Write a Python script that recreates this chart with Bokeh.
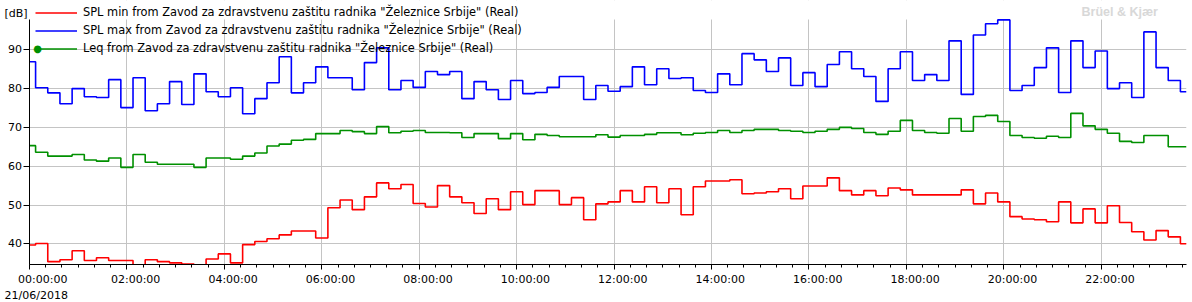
import pandas as pd
from bokeh.plotting import figure
from bokeh.models import (Range1d, FixedTicker, Label, Legend, LegendItem,
                          BoxAnnotation, LinearAxis, Title)
from bokeh.embed import file_html
from bokeh.resources import INLINE

# ---- data -------------------------------------------------------------
start_time = "2018-06-21 00:00"
interval = "15min"

spl_min = [39.7, 40.1, 35.4, 35.9, 38.2, 35.7, 36.4, 35.7, 35.7, 34.0,
           35.9, 35.4, 35.1, 34.8, 34.0, 36.1, 37.4, 35.1, 39.8, 40.6,
           41.3, 42.3, 43.3, 43.3, 41.5, 49.3, 51.3, 48.8, 52.1, 55.7,
           54.2, 55.3, 50.4, 49.5, 55.0, 52.1, 50.6, 47.8, 51.6, 48.8,
           53.4, 50.1, 53.7, 53.7, 50.1, 51.9, 46.2, 50.3, 50.8, 53.7,
           50.8, 54.7, 50.6, 54.2, 47.5, 54.7, 56.2, 56.2, 56.5, 52.9,
           53.1, 53.4, 54.2, 51.6, 54.9, 54.9, 57.0, 53.7, 52.6, 53.7,
           52.4, 54.4, 53.9, 52.6, 52.6, 52.6, 52.6, 53.9, 50.3, 53.1,
           50.8, 47.0, 46.4, 46.2, 45.7, 50.8, 45.4, 49.0, 45.4, 49.8,
           45.5, 43.1, 41.0, 43.4, 41.8, 40.0]

spl_max = [86.9, 80.2, 78.9, 76.1, 80.0, 77.9, 77.7, 82.3, 75.1, 82.8,
           74.3, 76.1, 81.8, 75.9, 83.8, 79.2, 77.9, 80.2, 73.5, 77.4,
           81.5, 88.2, 78.9, 81.5, 85.6, 82.8, 82.8, 79.7, 86.7, 90.5,
           79.7, 82.1, 80.3, 84.4, 83.6, 84.4, 77.4, 81.8, 79.7, 77.2,
           82.1, 78.7, 79.0, 80.3, 83.1, 83.1, 77.2, 80.8, 79.3, 80.5,
           85.6, 81.0, 85.1, 82.6, 82.8, 79.5, 79.0, 83.8, 81.0, 89.0,
           87.4, 84.4, 87.9, 80.8, 84.1, 80.5, 86.2, 89.5, 85.1, 83.1,
           76.7, 85.1, 89.5, 82.1, 83.6, 82.1, 92.3, 78.5, 93.8, 96.7,
           97.7, 79.5, 80.8, 85.4, 90.5, 79.0, 92.3, 85.4, 89.7, 80.0,
           81.5, 77.7, 94.6, 85.4, 82.1, 79.2]

leq = [65.3, 63.6, 62.6, 62.6, 63.0, 61.6, 61.3, 62.1, 59.7, 63.0,
       61.0, 60.5, 60.5, 60.5, 59.7, 62.1, 62.1, 61.8, 62.6, 63.4,
       65.2, 65.7, 66.7, 66.9, 68.4, 68.4, 69.2, 68.9, 68.4, 70.2,
       68.6, 69.0, 69.2, 68.7, 68.7, 68.6, 67.4, 68.4, 68.4, 67.1,
       68.4, 66.8, 68.2, 67.9, 67.6, 67.6, 67.6, 68.1, 67.5, 67.9,
       67.9, 68.2, 68.6, 68.6, 68.1, 68.5, 68.7, 69.2, 68.7, 69.2,
       69.5, 69.5, 69.2, 69.0, 68.7, 69.0, 69.5, 70.0, 69.7, 68.7,
       68.2, 69.0, 71.8, 69.2, 68.7, 68.5, 72.3, 69.0, 72.8, 73.1,
       71.5, 67.9, 67.4, 67.2, 67.7, 67.4, 73.6, 70.4, 69.5, 68.5,
       66.4, 66.1, 67.9, 67.9, 65.0, 65.0]

series_labels = [
    'SPL min from Zavod za zdravstvenu zaštitu radnika "Železnice Srbije" (Real)',
    'SPL max from Zavod za zdravstvenu zaštitu radnika "Železnice Srbije" (Real)',
    'Leq from Zavod za zdravstvenu zaštitu radnika "Železnice Srbije" (Real)',
]
x_tick_labels = ["00:00:00", "02:00:00", "04:00:00", "06:00:00", "08:00:00", "10:00:00",
                 "12:00:00", "14:00:00", "16:00:00", "18:00:00", "20:00:00", "22:00:00"]
date_label = "21/06/2018"
y_ticks = [40, 50, 60, 70, 80, 90]
y_unit = "[dB]"
y_min, y_max = 34.67, 97.8

# ---- build ------------------------------------------------------------
times = pd.date_range(start_time, periods=len(leq), freq=interval)
day0 = pd.Timestamp("2018-06-21 00:00")
tick_ms = [(day0 + pd.Timedelta(hours=2 * k)).value / 1e6 for k in range(len(x_tick_labels))]
minor_ms = [(day0 + pd.Timedelta(minutes=20 * k)).value / 1e6 for k in range(72)]

FONT = "DejaVu Sans"
FRAME_TOP_PX = 19.0     # plotting area top, below the legend strip
FRAME_H_PX = 264.0      # frame height (canvas top to x-axis)
px_per_db = (FRAME_H_PX - FRAME_TOP_PX) / (y_max - y_min)
y_top = y_max + FRAME_TOP_PX / px_per_db
y_unit_pos = y_top - 12.5 / px_per_db   # height where the unit text sits

p = figure(width=1192, height=302, x_axis_type="datetime",
           output_backend="svg", toolbar_location=None,
           x_range=Range1d(times[0], times[-1]),
           y_range=Range1d(y_min, y_top),
           min_border_left=29, min_border_right=6,
           min_border_top=0, min_border_bottom=38)
p.outline_line_color = None
p.background_fill_color = "white"
p.border_fill_color = "white"

r_min = p.step(times, spl_min, mode="center", line_color="#ff0000", line_width=1.6)
r_max = p.step(times, spl_max, mode="center", line_color="#0000ff", line_width=1.6)
r_leq = p.step(times, leq, mode="center", line_color="#009000", line_width=1.6)

# grid
p.xgrid.ticker = FixedTicker(ticks=tick_ms)
p.ygrid.ticker = FixedTicker(ticks=y_ticks)
for g in (p.xgrid, p.ygrid):
    g.grid_line_color = "#c4c4c4"
    g.grid_line_width = 1

# white strip above the plotting area (hides grid there)
p.add_layout(BoxAnnotation(bottom=y_max, fill_color="white", fill_alpha=1.0,
                           line_color=None, level="underlay"))

# x axis (labels sit a little to the right of their ticks, as in the reference)
pad = "\u00a0" * 5
xa = p.xaxis[0]
xa.ticker = FixedTicker(ticks=tick_ms, minor_ticks=minor_ms)
xa.major_label_overrides = {ms: pad + txt for ms, txt in zip(tick_ms, x_tick_labels)}
xa.major_label_text_font = FONT
xa.major_label_text_font_size = "11px"
xa.major_label_text_color = "black"
xa.major_label_standoff = 3
xa.axis_line_color = "black"
xa.major_tick_line_color = "black"
xa.minor_tick_line_color = "black"
xa.major_tick_in = 0
xa.major_tick_out = 5
xa.minor_tick_in = 0
xa.minor_tick_out = 3

# date under the first time label
date_title = Title(text=date_label, align="left", offset=-25,
                   text_font=FONT, text_font_size="11px", text_font_style="normal",
                   text_color="black")
try:
    date_title.standoff = -4
except Exception:
    date_title.standoff = 0
p.add_layout(date_title, "below")

# y axis: inner axis draws line + ticks only
ya = p.yaxis[0]
ya.ticker = FixedTicker(ticks=y_ticks)
ya.bounds = (y_min, y_max)
ya.axis_line_color = "black"
ya.major_tick_line_color = "black"
ya.minor_tick_line_color = None
ya.major_tick_in = 0
ya.major_tick_out = 6
ya.major_label_standoff = 0
ya.major_label_overrides = {t: "" for t in y_ticks}
ya.major_label_text_font_size = "0px"

# outer axis carries the tick labels and the unit text
label_ticks = y_ticks + [y_unit_pos]
label_text = {t: str(t) + "\u2002" for t in y_ticks}
label_text[y_unit_pos] = y_unit
ya2 = LinearAxis(ticker=FixedTicker(ticks=label_ticks),
                 major_label_overrides=label_text,
                 axis_line_color=None, major_tick_line_color=None,
                 minor_tick_line_color=None, major_tick_in=0, major_tick_out=0,
                 minor_tick_in=0, minor_tick_out=0, major_label_standoff=-4,
                 major_label_text_font=FONT, major_label_text_font_size="11px",
                 major_label_text_color="black")
p.add_layout(ya2, "left")

# watermark
p.add_layout(Label(x=1052, y=FRAME_H_PX - 11, x_units="screen", y_units="screen",
                   text="Brüel & Kjær", text_align="left", text_baseline="middle",
                   text_font="Liberation Sans", text_font_style="bold",
                   text_font_size="12.5px", text_color="#d8d8d8"))

# legend
legend = Legend(items=[LegendItem(label=series_labels[0], renderers=[r_min]),
                       LegendItem(label=series_labels[1], renderers=[r_max]),
                       LegendItem(label=series_labels[2], renderers=[r_leq])],
                location=(6, FRAME_H_PX - 3.5 - 53), orientation="vertical",
                padding=0, margin=0, spacing=1,
                glyph_width=42, glyph_height=17, label_height=17, label_standoff=6,
                label_text_font=FONT, label_text_font_size="11.4px",
                label_text_color="black",
                background_fill_alpha=0, border_line_color=None)
p.add_layout(legend)

p.add_layout(Label(x=8, y=FRAME_H_PX - 48, x_units="screen", y_units="screen", text="●",
                   text_align="center", text_baseline="middle",
                   text_font=FONT, text_font_size="10px", text_color="#009000"))

open("out.html", "w").write(file_html(p, INLINE))
